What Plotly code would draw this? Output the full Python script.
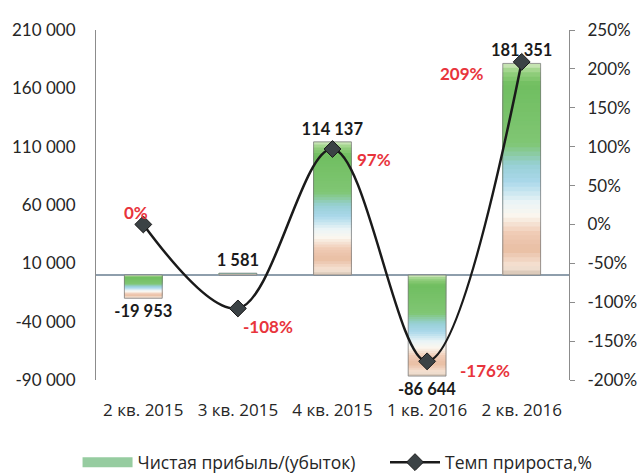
import plotly.graph_objects as go

# ---------------- data ----------------
categories = ["2 кв. 2015", "3 кв. 2015", "4 кв. 2015", "1 кв. 2016", "2 кв. 2016"]
net_profit = [-19953, 1581, 114137, -86644, 181351]
profit_labels = ["-19 953", "1 581", "114 137", "-86 644", "181 351"]
growth_pct = [0, -108, 97, -176, 209]
growth_labels = ["0%", "-108%", "97%", "-176%", "209%"]

left_tickvals = [-90000, -40000, 10000, 60000, 110000, 160000, 210000]
left_ticktext = ["-90 000", "-40 000", "10 000", "60 000", "110 000", "160 000", "210 000"]
right_tickvals = [-200, -150, -100, -50, 0, 50, 100, 150, 200, 250]
right_ticktext = ["-200%", "-150%", "-100%", "-50%", "0%", "50%", "100%", "150%", "200%", "250%"]

series_bar_name = "Чистая прибыль/(убыток)"
series_line_name = "Темп прироста,%"

# ---------------- style ----------------
FONT = "Lato, 'Open Sans', sans-serif"
CYR_FONT = "'Open Sans', 'Noto Sans', sans-serif"
label_offsets = [(-7, 12), (30, -18), (41, -10), (58, -9), (-60, -12)]

# gradient stops: fraction measured from the TOP of the bar on screen
stops = [
    (0.00, (214, 234, 196)),
    (0.04, (150, 208, 128)),
    (0.10, (112, 190, 96)),
    (0.38, (128, 198, 116)),
    (0.48, (152, 208, 214)),
    (0.56, (170, 216, 234)),
    (0.66, (236, 245, 246)),
    (0.72, (251, 246, 238)),
    (0.80, (240, 204, 182)),
    (0.88, (233, 190, 163)),
    (0.96, (246, 228, 214)),
    (1.00, (212, 194, 178)),
]


def grad_color(f):
    for (f0, c0), (f1, c1) in zip(stops[:-1], stops[1:]):
        if f0 <= f <= f1:
            t = (f - f0) / (f1 - f0) if f1 > f0 else 0
            c = [round(a + (b - a) * t) for a, b in zip(c0, c1)]
            return f"rgb({c[0]},{c[1]},{c[2]})"
    c = stops[-1][1]
    return f"rgb({c[0]},{c[1]},{c[2]})"


fig = go.Figure()

# gradient fill: nested bars from zero, longest first, each shorter one covering the inner part
N = 48
for k in range(N, 0, -1):
    lens = [v * k / N for v in net_profit]
    colors = []
    for v in net_profit:
        mid = (k - 0.5) / N  # fraction from zero
        f = 1 - mid if v >= 0 else mid
        colors.append(grad_color(f))
    fig.add_trace(go.Bar(
        x=categories, y=lens, width=0.4,
        marker=dict(color=colors, line=dict(width=0)),
        showlegend=False, hoverinfo="skip", yaxis="y",
    ))

# outline + value labels
fig.add_trace(go.Bar(
    x=categories, y=net_profit, width=0.4,
    marker=dict(color="rgba(0,0,0,0)", line=dict(color="rgba(120,120,120,0.75)", width=1)),
    text=profit_labels, textposition="outside", cliponaxis=False, constraintext="none",
    textfont=dict(family=FONT, size=16.5, color="#1a1a1a", weight="bold"),
    showlegend=False, yaxis="y",
))

# legend-only swatch for bars
fig.add_trace(go.Scatter(
    x=[None], y=[None], mode="lines", name=series_bar_name,
    line=dict(color="rgb(150,204,160)", width=12), yaxis="y", legend="legend",
))

# growth line
fig.add_trace(go.Scatter(
    x=categories, y=growth_pct, mode="lines+markers", name=series_line_name,
    line=dict(color="#1a1a1a", width=2.5, shape="spline", smoothing=1.0),
    marker=dict(symbol="diamond", size=13, color="#3b4245", line=dict(color="#1a1a1a", width=1)),
    yaxis="y2", cliponaxis=False, legend="legend2",
))

annotations = []
for c, v, t, (dx, dy) in zip(categories, growth_pct, growth_labels, label_offsets):
    annotations.append(dict(
        x=c, y=v, xref="x", yref="y2", text=t, showarrow=False,
        xshift=dx, yshift=dy,
        font=dict(family=FONT, size=17, color="#e8343c", weight="bold"),
    ))

fig.update_layout(
    width=638, height=474, autosize=False,
    margin=dict(l=96, r=69, t=30, b=94, autoexpand=False),
    paper_bgcolor="white", plot_bgcolor="white",
    barmode="overlay",
    font=dict(family=FONT, size=17, color="#262626"),
    xaxis=dict(showgrid=False, showline=False, ticks="", zeroline=False,
               ticklabelstandoff=18, tickfont=dict(family=CYR_FONT, size=17)),
    yaxis=dict(range=[-90000, 210000], tickvals=left_tickvals, ticktext=left_ticktext,
               showgrid=False, showline=True, linecolor="#8c8c8c", linewidth=1.2,
               zeroline=True, zerolinecolor="#8e9eac", zerolinewidth=1.5,
               ticks="", ticklabelstandoff=16, tickfont=dict(size=17)),
    yaxis2=dict(range=[-200, 250], tickvals=right_tickvals, ticktext=right_ticktext,
                overlaying="y", side="right", showgrid=False, zeroline=False,
                showline=True, linecolor="#8c8c8c", linewidth=1.2,
                ticks="outside", ticklen=5, tickcolor="#8c8c8c",
                ticklabelstandoff=9, tickfont=dict(size=17)),
    legend=dict(orientation="h", x=-0.039, y=-0.235, xanchor="left", yanchor="middle",
                font=dict(family=CYR_FONT, size=17.5, color="#262626"),
                itemwidth=50, bgcolor="rgba(0,0,0,0)"),
    legend2=dict(orientation="h", x=0.611, y=-0.235, xanchor="left", yanchor="middle",
                 font=dict(family=CYR_FONT, size=17.5, color="#262626"),
                 itemwidth=50, bgcolor="rgba(0,0,0,0)"),
    annotations=annotations,
    showlegend=True,
)

# remove the browser's default page margin so the figure fills the window exactly
fig.write_html("out.html", config={"displayModeBar": False},
               post_script="document.body.style.margin='0px';")
